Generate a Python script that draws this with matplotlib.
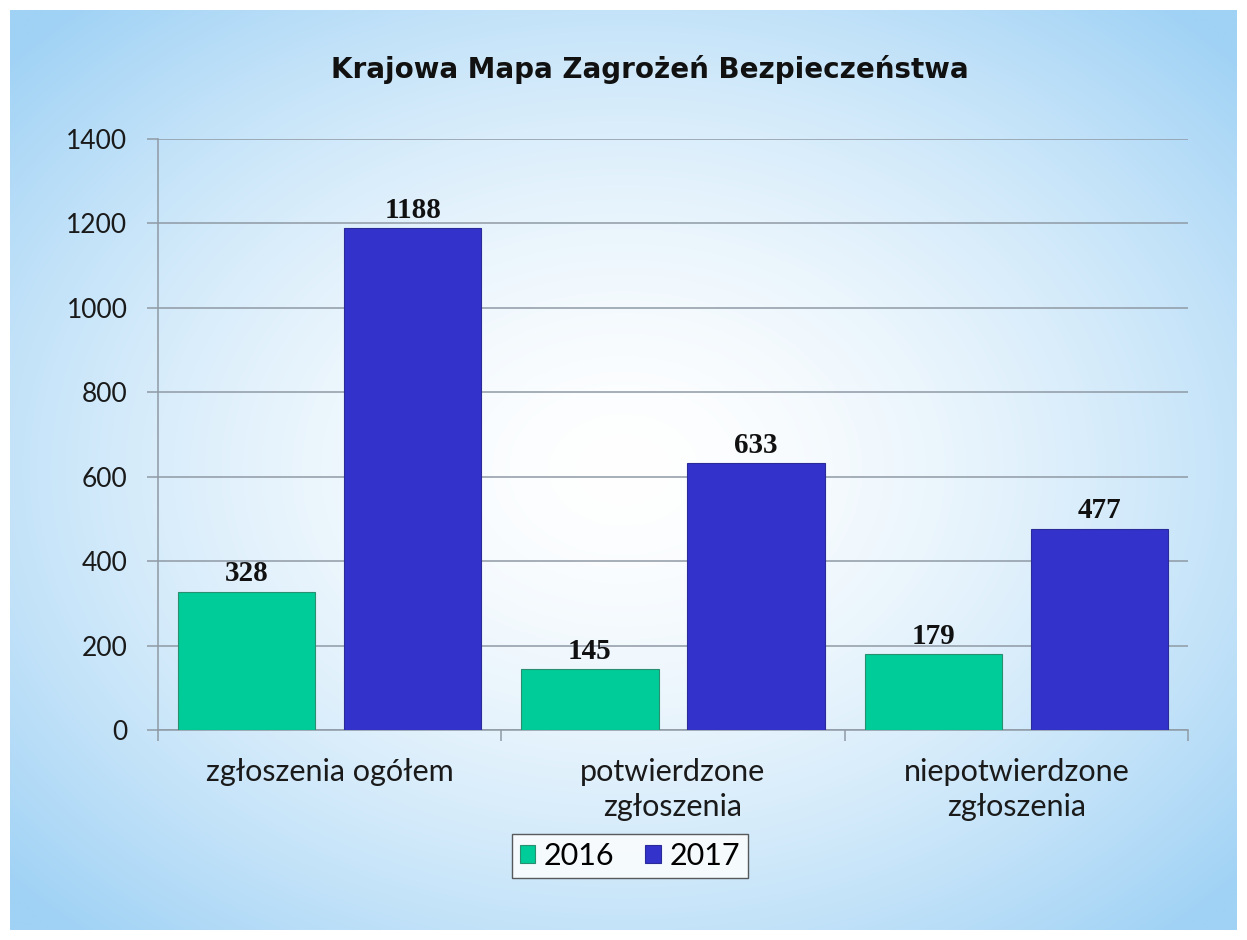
import numpy as np
import matplotlib
matplotlib.use("Agg")
import matplotlib.pyplot as plt

categories = ["zgłoszenia ogółem", "potwierdzone\nzgłoszenia", "niepotwierdzone\nzgłoszenia"]
series_names = ["2016", "2017"]
values_2016 = [328, 145, 179]
values_2017 = [1188, 633, 477]
yticks = [0, 200, 400, 600, 800, 1000, 1200, 1400]
title = "Krajowa Mapa Zagrożeń Bezpieczeństwa"

W, H = 1247, 940
fig = plt.figure(figsize=(W / 100, H / 100), dpi=100)
fig.patch.set_facecolor("white")

# background radial gradient
bg = fig.add_axes([10 / W, 10 / H, (W - 20) / W, (H - 20) / H])
bg.set_axis_off()
nx, ny = 400, 300
xx, yy = np.meshgrid(np.linspace(-1, 1, nx), np.linspace(-1, 1, ny))
r = np.sqrt(xx ** 2 + yy ** 2)
t = np.clip(r / 1.35, 0, 1) ** 1.6
c_in = np.array([1.0, 1.0, 1.0])
c_out = np.array([160, 210, 245]) / 255
img = c_in[None, None, :] * (1 - t[..., None]) + c_out[None, None, :] * t[..., None]
bg.imshow(img, aspect="auto", extent=[0, 1, 0, 1], interpolation="bilinear")

left, right = 158 / W, 1188 / W
bottom, top = (H - 730) / H, (H - 139) / H
ax = fig.add_axes([left, bottom, right - left, top - bottom])
ax.patch.set_alpha(0)

x = np.arange(len(categories))
bw = 0.40
off = 0.242
green = "#00CC99"
blue = "#3333CC"
ax.bar(x - off, values_2016, bw, color=green, edgecolor="#2a8f70", linewidth=0.8, label=series_names[0], zorder=3)
ax.bar(x + off, values_2017, bw, color=blue, edgecolor="#2a2a99", linewidth=0.8, label=series_names[1], zorder=3)

for xs, vals in ((x - off, values_2016), (x + off, values_2017)):
    for xi, v in zip(xs, vals):
        ax.text(xi, v + 10, str(v), ha="center", va="bottom", fontsize=21,
                fontweight="bold", family="Liberation Serif", zorder=4, color="#111111")

ax.set_xlim(-0.5, len(categories) - 0.5)
ax.set_ylim(0, 1400)
ax.set_yticks(yticks)
ax.set_yticklabels([str(v) for v in yticks], fontsize=19, family="Lato", color="#1a1a1a")
ax.yaxis.grid(True, color="#8f9aa5", linewidth=1.1, zorder=0)
ax.set_axisbelow(True)

ax.set_xticks([-0.5, 0.5, 1.5, 2.5])
ax.set_xticklabels([])
ax.set_xticks(x, minor=True)
ax.set_xticklabels(categories, minor=True, fontsize=22, family="Lato", color="#1a1a1a", linespacing=1.3)
ax.tick_params(axis="x", which="minor", length=0, pad=20)
ax.tick_params(axis="x", which="major", length=8, color="#8f9aa5", width=1.1)
ax.tick_params(axis="y", length=8, color="#8f9aa5", width=1.1, pad=14)

for s in ["top", "right"]:
    ax.spines[s].set_visible(False)
for s in ["left", "bottom"]:
    ax.spines[s].set_color("#8f9aa5")
    ax.spines[s].set_linewidth(1.1)

fig.text(650 / W, 1 - 70 / H, title, ha="center", va="center", fontsize=20,
         fontweight="bold", family="DejaVu Sans", color="#111111")

leg = fig.legend(loc="center", bbox_to_anchor=(630 / W, 1 - 856 / H), ncol=2,
                 prop={"family": "Lato", "size": 22}, frameon=True,
                 handlelength=0.5, handleheight=0.5, handletextpad=0.3, columnspacing=1.0,
                 fancybox=False, edgecolor="#333333", borderpad=0.25)
leg.get_frame().set_facecolor("white")
leg.get_frame().set_linewidth(1.0)

fig.savefig("out.png", dpi=100, facecolor=fig.get_facecolor())
